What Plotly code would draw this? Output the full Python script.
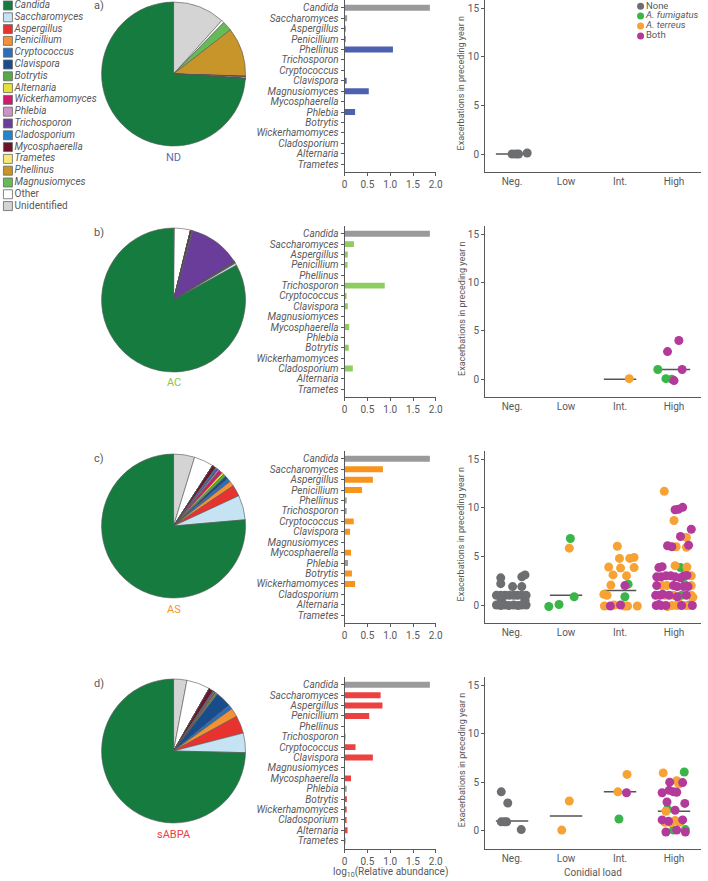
import plotly.graph_objects as go

W, H = 708, 881
def fx(p): return p / W
def fy(p): return 1 - p / H

FONT = "Roboto, Arial, sans-serif"
TXT = "#58595b"
AX = "#58595b"

# ---------------- data ----------------
PIE_LABELS = ["Candida", "Saccharomyces", "Aspergillus", "Penicillium", "Cryptococcus",
              "Clavispora", "Botrytis", "Alternaria", "Wickerhamomyces", "Phlebia",
              "Trichosporon", "Cladosporium", "Mycosphaerella", "Trametes", "Phellinus",
              "Magnusiomyces", "Other", "Unidentified"]
PIE_COLORS = ["#167b3e", "#c5e3f3", "#e8322f", "#f39234", "#2a6fbc", "#184c8a", "#5aa847",
              "#e6e03a", "#cf1b6f", "#cc94c4", "#6a3d9a", "#2384c9", "#6b1529", "#f3ea79",
              "#c8952b", "#66bb58", "#ffffff", "#d4d4d4"]

pie_ND = [74, 0, 0, 0, 0, 0, 0, 0, 0, 0.4, 0, 0, 0.15, 0, 11, 2.2, 0.6, 11.7]
pie_AC = [83, 0.5, 0.1, 0.1, 0.05, 0.1, 0.1, 0, 0, 0, 11.7, 0.2, 0.3, 0, 0, 0, 3.6, 0.2]
pie_AS = [76, 5.5, 2.5, 1.2, 0.8, 0.7, 0.6, 0.5, 0.8, 0.3, 0.3, 0.4, 0.8, 0, 0, 0, 4.4, 4.7]
pie_sABPA = [75, 4.4, 4.0, 2.0, 1.0, 3.6, 0.3, 0.2, 0.2, 0.2, 0.1, 0.2, 1.0, 0, 0, 0, 5.3, 3.0]

BAR_GENERA = ["Candida", "Saccharomyces", "Aspergillus", "Penicillium", "Phellinus",
              "Trichosporon", "Cryptococcus", "Clavispora", "Magnusiomyces", "Mycosphaerella",
              "Phlebia", "Botrytis", "Wickerhamomyces", "Cladosporium", "Alternaria", "Trametes"]
bar_ND = [1.87, 0.055, 0.01, 0.01, 1.06, 0, 0, 0.03, 0.53, 0, 0.23, 0, 0, 0, 0, 0]
bar_AC = [1.87, 0.205, 0.07, 0.065, 0, 0.88, 0.03, 0.07, 0, 0.1, 0, 0.09, 0, 0.18, 0, 0]
bar_AS = [1.87, 0.84, 0.62, 0.38, 0.045, 0.045, 0.2, 0.12, 0, 0.14, 0.075, 0.16, 0.23, 0, 0, 0]
bar_sABPA = [1.87, 0.79, 0.83, 0.54, 0, 0.02, 0.24, 0.62, 0, 0.14, 0.045, 0.05, 0.045, 0.03, 0.065, 0.015]
# which bars are drawn grey (1) vs group colour (0)
grey_ND = [1, 1, 0, 0, 0, 0, 0, 0, 0, 0, 0, 0, 0, 0, 0, 0]
grey_AC = [1, 0, 0, 0, 0, 0, 0, 0, 0, 0, 0, 0, 0, 0, 0, 0]
grey_AS = [1, 0, 0, 0, 1, 1, 0, 0, 0, 0, 1, 0, 0, 0, 0, 0]
grey_sABPA = [1, 0, 0, 0, 0, 1, 0, 0, 0, 0, 1, 0, 0, 0, 0, 1]

GROUP_NAMES = ["ND", "AC", "AS", "sABPA"]
GROUP_COLORS = ["#4e60b0", "#8fcd60", "#f7941d", "#ec4141"]
GROUP_LABEL_COLORS = ["#5a6bb2", "#8dc63f", "#f7941d", "#ec4141"]

LOAD_LABELS = ["Neg.", "Low", "Int.", "High"]
EXPO_NAMES = ["None", "A. fumigatus", "A. terreus", "Both"]
EXPO_COLORS = ["#6d6e71", "#3bb54a", "#f7a234", "#b3399b"]

# scatter: category index, horizontal offset, value, exposure group (0..3)
ND_cat = [0, 0, 0, 0]
ND_dx = [0.0, 0.07, 0.12, 0.28]
ND_y = [0, 0, 0, 0.1]
ND_grp = [0, 0, 0, 0]
ND_med = [0, None, None, None]

AC_cat = [2, 3, 3, 3, 3, 3, 3, 3]
AC_dx = [0.17, -0.3, -0.12, 0.09, 0.15, -0.15, -0.04, 0.0]
AC_y = [0.05, 1.0, 2.85, 4.0, 1.0, 0.05, 0.0, -0.15]
AC_grp = [2, 1, 3, 3, 3, 1, 1, 3]
AC_med = [None, None, 0, 1]

AS_cat = ([0] * 24 + [1] * 5 + [2] * 22 + [3] * 60)
AS_dx = ([-0.21, -0.21, 0.01, 0.18, 0.18, 0.24, -0.29, -0.21, -0.13, -0.05, 0.03, 0.1, 0.18, 0.26,
          -0.2, 0.24, -0.29, -0.21, -0.14, -0.06, 0.03, 0.11, 0.18, 0.26] +
         [0.08, 0.06, 0.15, -0.13, -0.32] +
         [-0.05, -0.01, 0.18, 0.26, -0.21, 0.01, 0.26, -0.13, 0.12, -0.17, 0.15, 0.09, -0.3, -0.24,
          0.09, -0.29, -0.18, -0.11, 0.01, 0.08, 0.14, 0.32] +
         [-0.18, 0.02, 0.08, 0.16, 0.0, 0.32, 0.12, 0.23, -0.12, -0.04, 0.04, 0.23, 0.27,
          -0.28, -0.22, 0.02, 0.12, 0.24, 0.18,
          -0.32, -0.24, -0.15, -0.06, 0.02, 0.24, 0.32, 0.12,
          -0.32, -0.22, -0.13, -0.01, 0.06, 0.2, 0.26, 0.32,
          -0.34, -0.26, -0.17, -0.09, -0.01, 0.14, 0.23, 0.32, 0.35, 0.06, -0.21, 0.18,
          -0.33, -0.24, -0.15, -0.04, 0.05, 0.14, 0.23, 0.34, -0.12, 0.28, -0.28, 0.1])
AS_y = ([2.8, 2.2, 1.9, 1.9, 2.9, 3.1, 1, 1, 1, 1, 1, 1, 1, 1,
         0.5, 0.5, 0, -0.05, 0, -0.05, 0, -0.05, 0, 0] +
        [6.85, 5.85, 0.85, 0.05, -0.15] +
        [6.05, 4.8, 4.8, 4.9, 3.9, 3.8, 3.85, 3.1, 3.0, 2.05, 2.15, 2.0, 1.1, 1.0,
         0.85, -0.1, -0.1, 0.0, 0.0, -0.1, -0.1, -0.1] +
        [11.7, 9.8, 9.85, 10.05, 8.7, 7.8, 7.05, 6.95, 6.1, 6.0, 6.0, 5.95, 6.15,
         3.85, 3.95, 4.05, 3.85, 3.9, 3.0,
         2.9, 2.9, 3.0, 3.0, 2.9, 3.05, 3.0, 2.8,
         2.0, 2.0, 2.0, 2.0, 1.9, 2.1, 1.9, 2.0,
         1.0, 1.0, 1.0, 1.0, 1.0, 1.0, 1.0, 1.0, 0.8, 0.85, 1.1, 1.9,
         -0.05, -0.05, -0.05, -0.05, -0.05, -0.05, -0.05, -0.05, -0.15, 0.0, 0.05, 0.1])
AS_grp = ([0] * 24 +
          [1, 2, 1, 1, 1] +
          [2, 2, 2, 2, 2, 2, 2, 2, 2, 2, 1, 3, 2, 2, 1, 2, 3, 2, 3, 2, 2, 2] +
          [2, 3, 3, 3, 2, 3, 3, 2, 3, 3, 2, 2, 3,
           3, 3, 2, 1, 2, 3,
           3, 3, 3, 3, 3, 3, 2, 3,
           3, 2, 2, 3, 3, 1, 3, 2,
           3, 3, 2, 3, 2, 1, 3, 2, 2, 3, 3, 3,
           3, 3, 3, 2, 2, 3, 2, 3, 2, 1, 3, 2])
AS_med = [1, 1, 1.5, 1]

SA_cat = [0] * 6 + [1] * 2 + [2] * 4 + [3] * 28
SA_dx = ([-0.2, -0.08, -0.2, -0.14, -0.1, 0.17] +
         [0.06, -0.08] +
         [0.13, -0.04, 0.12, -0.02] +
         [-0.2, 0.19, -0.08, 0.05, 0.09, 0.16, -0.22, -0.09, -0.01, 0.05, -0.13, 0.2, -0.15, 0.02,
          -0.12, -0.22, -0.1, -0.17, -0.06, 0.02, 0.1, 0.16, 0.13, -0.01, 0.05, 0.21, -0.15, 0.21])
SA_y = ([4.0, 2.85, 0.9, 0.9, 0.9, 0.1] +
        [3.05, 0.05] +
        [5.8, 4.0, 3.9, 1.2] +
        [5.95, 6.05, 5.0, 5.15, 4.8, 4.95, 3.9, 4.15, 4.0, 3.95, 2.95, 2.8, 2.0, 2.1,
         2.2, 1.1, 0.95, 0.85, 0.8, 1.05, 0.85, 1.1, 0.95, 0.05, 0.05, 0.1, -0.15, -0.15])
SA_grp = ([0] * 6 + [2, 2] + [2, 2, 3, 1] +
          [2, 1, 3, 2, 2, 3, 3, 3, 3, 3, 3, 3, 2, 3,
           1, 3, 3, 2, 2, 2, 2, 3, 2, 1, 3, 1, 3, 3])
SA_med = [1, 1.5, 4, 2]

# ---------------- layout geometry ----------------
ROW_TOP = [0, 226, 451, 677]
ROW_BOT = [172, 397, 623, 848.5]
PIE_CY = [74, 300, 526, 751]
PIE_R = 73
PIE_CX = 173

fig = go.Figure()
annotations = []

def ann(text, x, y, size=10, color=TXT, angle=0):
    annotations.append(dict(text=text, x=x, y=y, xref="paper", yref="paper", showarrow=False,
                            xanchor="center", yanchor="middle", textangle=angle,
                            font=dict(size=size, color=color, family=FONT)))

pies = [pie_ND, pie_AC, pie_AS, pie_sABPA]
bars = [bar_ND, bar_AC, bar_AS, bar_sABPA]
greys = [grey_ND, grey_AC, grey_AS, grey_sABPA]
scat = [(ND_cat, ND_dx, ND_y, ND_grp, ND_med), (AC_cat, AC_dx, AC_y, AC_grp, AC_med),
        (AS_cat, AS_dx, AS_y, AS_grp, AS_med), (SA_cat, SA_dx, SA_y, SA_grp, SA_med)]
letters = ["a)", "b)", "c)", "d)"]

layout_axes = {}
for r in range(4):
    # pie: slices laid clockwise from 12 o'clock in reverse legend order, so that
    # Candida ends at 12 o'clock and the rest runs counterclockwise from it
    fig.add_trace(go.Pie(
        values=pies[r][::-1], labels=PIE_LABELS[::-1], sort=False, direction="clockwise",
        rotation=0,
        marker=dict(colors=PIE_COLORS[::-1], line=dict(color="#555555", width=0.6)),
        textinfo="none", hoverinfo="label+percent", showlegend=False,
        domain=dict(x=[fx(PIE_CX - PIE_R), fx(PIE_CX + PIE_R)],
                    y=[fy(PIE_CY[r] + PIE_R), fy(PIE_CY[r] - PIE_R)])))
    ann(GROUP_NAMES[r], fx(PIE_CX), fy(PIE_CY[r] + PIE_R + 10), size=11,
        color=GROUP_LABEL_COLORS[r])
    ann(letters[r], fx(97), fy(PIE_CY[r] - 68), size=11)

    # bars
    bi = 1 + r
    xa, ya = f"x{bi}", f"y{bi}"
    cols = ["#9a9a9c" if g else GROUP_COLORS[r] for g in greys[r]]
    fig.add_trace(go.Bar(x=bars[r], y=list(range(len(BAR_GENERA))), orientation="h",
                         marker=dict(color=cols, line=dict(width=0)), width=0.57,
                         xaxis=xa, yaxis=ya, showlegend=False))
    layout_axes[f"xaxis{bi}"] = dict(
        domain=[fx(346.5), fx(439)], anchor=ya, range=[0, 2.0],
        tickvals=[0, 0.5, 1, 1.5, 2], ticktext=["0", "0.5", "1.0", "1.5", "2.0"],
        showline=True, linecolor=AX, linewidth=1, ticks="outside", ticklen=3, tickcolor=AX,
        showgrid=False, zeroline=False, tickfont=dict(size=10, color=TXT, family=FONT))
    layout_axes[f"yaxis{bi}"] = dict(
        domain=[fy(ROW_BOT[r]), fy(ROW_TOP[r])], anchor=xa, range=[15.75, -0.75],
        tickvals=list(range(len(BAR_GENERA))), ticktext=[f"<i>{g}</i>" for g in BAR_GENERA],
        showline=True, linecolor=AX, linewidth=1, ticks="outside", ticklen=3, tickcolor=AX,
        showgrid=False, zeroline=False, tickfont=dict(size=10, color=TXT, family=FONT))

    # scatter
    si = 5 + r
    xs, ys = f"x{si}", f"y{si}"
    cat, dx, yv, grp, med = scat[r]
    for m, mv in enumerate(med):
        if mv is None:
            continue
        fig.add_trace(go.Scatter(x=[m - 0.3, m + 0.3], y=[mv, mv], mode="lines",
                                 line=dict(color="#555555", width=1.5), xaxis=xs, yaxis=ys,
                                 showlegend=False, hoverinfo="skip"))
    for g in range(4):
        px_ = [c + d for c, d, gg in zip(cat, dx, grp) if gg == g]
        py_ = [v for v, gg in zip(yv, grp) if gg == g]
        if not px_:
            continue
        fig.add_trace(go.Scatter(x=px_, y=py_, mode="markers",
                                 marker=dict(color=EXPO_COLORS[g], size=9, line=dict(width=0)),
                                 xaxis=xs, yaxis=ys, showlegend=False, name=EXPO_NAMES[g]))
    layout_axes[f"xaxis{si}"] = dict(
        domain=[fx(489), 1], anchor=ys, range=[-0.5, 3.5],
        tickvals=[0, 1, 2, 3], ticktext=LOAD_LABELS,
        showline=True, linecolor=AX, linewidth=1, ticks="", showgrid=False, zeroline=False,
        tickfont=dict(size=10, color=TXT, family=FONT))
    layout_axes[f"yaxis{si}"] = dict(
        domain=[fy(ROW_BOT[r]), fy(ROW_TOP[r])], anchor=xs, range=[-1.85, 15.85],
        tickvals=[0, 5, 10, 15], showline=True, linecolor=AX, linewidth=1, ticks="outside",
        ticklen=3, tickcolor=AX, showgrid=False, zeroline=False,
        tickfont=dict(size=10, color=TXT, family=FONT))
    ann("Exacerbations in preceding year n", fx(465), fy((ROW_TOP[r] + ROW_BOT[r]) / 2 - 3),
        size=9, angle=-90)

# left legend (genera)
fig.add_trace(go.Scatter(
    x=[0] * len(PIE_LABELS), y=list(range(len(PIE_LABELS))), mode="markers+text",
    text=[(f"<i>{l}</i>" if l not in ("Other", "Unidentified") else l) for l in PIE_LABELS],
    textposition="middle right", textfont=dict(size=10, color=TXT, family=FONT),
    marker=dict(symbol="square", size=9, color=PIE_COLORS, line=dict(color="#666666", width=0.8)),
    cliponaxis=False, xaxis="x9", yaxis="y9", showlegend=False, hoverinfo="skip"))
layout_axes["xaxis9"] = dict(domain=[0, 0.2], range=[-0.5, 13.66], visible=False, anchor="y9")
layout_axes["yaxis9"] = dict(domain=[fy(211.5), 1], range=[17.46, -0.466], visible=False, anchor="x9")

# exposure legend
fig.add_trace(go.Scatter(
    x=[0] * 4, y=list(range(4)), mode="markers+text",
    text=["None", "<i>A. fumigatus</i>", "<i>A. terreus</i>", "Both"],
    textposition="middle right", textfont=dict(size=9.5, color=TXT, family=FONT),
    marker=dict(size=7, color=EXPO_COLORS), cliponaxis=False,
    xaxis="x10", yaxis="y10", showlegend=False, hoverinfo="skip"))
layout_axes["xaxis10"] = dict(domain=[fx(641.7), fx(651.7)], range=[-1, 1], visible=False, anchor="y10")
layout_axes["yaxis10"] = dict(domain=[fy(41), 1], range=[3.515, -0.625], visible=False, anchor="x10")

ann("log<sub>10</sub>(Relative abundance)", fx(392.7), fy(872))
ann("Conidial load", fx(598.5), fy(872))

fig.update_layout(width=W, height=H, margin=dict(l=0, r=0, t=0, b=0),
                  paper_bgcolor="white", plot_bgcolor="white", showlegend=False,
                  font=dict(family=FONT, color=TXT), annotations=annotations, **layout_axes)
fig.write_html("out.html", config={"displayModeBar": False},
               post_script="document.body.style.margin='0px';document.body.style.overflow='hidden';")
